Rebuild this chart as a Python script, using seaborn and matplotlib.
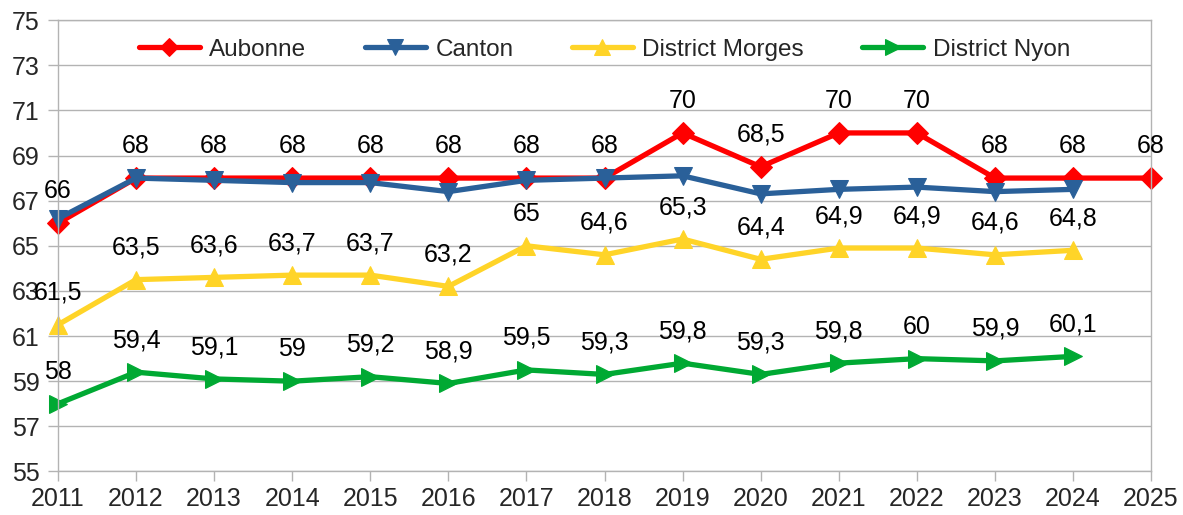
import matplotlib
matplotlib.use("Agg")
import matplotlib.pyplot as plt
import seaborn as sns
import pandas as pd

# ========== data ==========
years = [2011, 2012, 2013, 2014, 2015, 2016, 2017, 2018,
         2019, 2020, 2021, 2022, 2023, 2024, 2025]
aubonne = [66, 68, 68, 68, 68, 68, 68, 68, 70, 68.5, 70, 70, 68, 68, 68]
canton = [66.2, 68.0, 67.9, 67.8, 67.8, 67.4, 67.9, 68.0, 68.1, 67.3, 67.5, 67.6, 67.4, 67.5]
morges = [61.5, 63.5, 63.6, 63.7, 63.7, 63.2, 65, 64.6, 65.3, 64.4, 64.9, 64.9, 64.6, 64.8]
nyon = [58, 59.4, 59.1, 59, 59.2, 58.9, 59.5, 59.3, 59.8, 59.3, 59.8, 60, 59.9, 60.1]
y_ticks = list(range(55, 76, 2))

series = [
    ("Aubonne", aubonne, "#ff0000", "D", 11, True),
    ("Canton", canton, "#2a6099", "v", 13, False),
    ("District Morges", morges, "#ffd428", "^", 13, True),
    ("District Nyon", nyon, "#00a933", ">", 13, True),
]

# ========== plot ==========
sns.set_style("white")
plt.rcParams['font.family'] = ['Liberation Sans', 'DejaVu Sans']

fig, ax = plt.subplots(figsize=(11.83, 5.15), dpi=100)
fig.subplots_adjust(left=0.049, right=0.973, top=0.961, bottom=0.0845)

for name, vals, col, mk, ms, show_labels in series:
    df = pd.DataFrame({"year": years[:len(vals)], "value": vals})
    sns.lineplot(data=df, x="year", y="value", ax=ax, color=col, linewidth=3.8,
                 marker=mk, markersize=ms, markeredgecolor=col, label=name,
                 clip_on=False)
    if show_labels:
        for x, v in zip(df["year"], df["value"]):
            txt = f"{v:g}".replace(".", ",")
            ax.annotate(txt, (x, v), xytext=(0, 23), textcoords="offset points",
                        ha="center", va="center", fontsize=18, color="black",
                        annotation_clip=False)

ax.set_xlim(2011, 2025)
ax.set_ylim(55, 75)
ax.set_xticks(years)
ax.set_yticks(y_ticks)
ax.set_xlabel("")
ax.set_ylabel("")
ax.grid(axis="y", color="#b3b3b3", linewidth=1)
ax.grid(axis="x", visible=False)
for sp in ax.spines.values():
    sp.set_color("#b3b3b3")
    sp.set_linewidth(1)
ax.tick_params(axis="both", labelsize=18, color="#b3b3b3", length=7,
               width=1, direction="out")
ax.tick_params(axis="y", pad=6, left=True)
ax.tick_params(axis="x", pad=4, bottom=True)

leg = ax.legend(loc="center", bbox_to_anchor=(0.5, 0.934), ncol=4, frameon=False,
                fontsize=17.5, handlelength=2.5, handletextpad=0.4,
                columnspacing=2.4, markerscale=0.85)

plt.savefig("out.png", dpi=100)
